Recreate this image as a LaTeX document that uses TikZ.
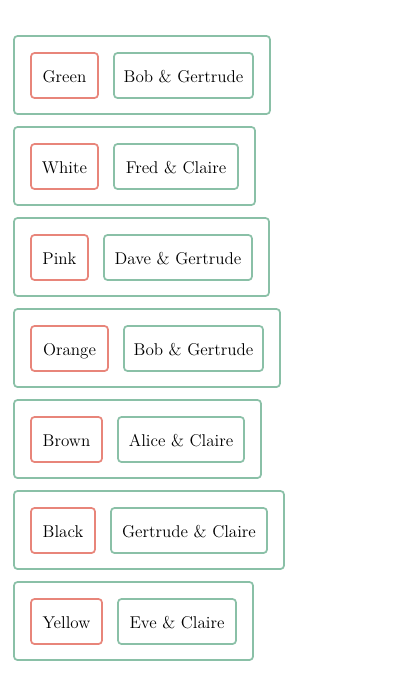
\documentclass[tikz,border=0pt]{standalone}
\usetikzlibrary{fit}
\definecolor{boxred}{RGB}{232,133,122}
\definecolor{boxgreen}{RGB}{138,192,167}
\begin{document}
\begin{tikzpicture}[x=0.75pt,y=-0.75pt,
  every node/.style={font=\fontsize{12.8}{15}\selectfont},
  redbox/.style={draw=boxred, line width=1.3pt, rounded corners=2.6pt, inner sep=0pt},
  greenbox/.style={draw=boxgreen, line width=1.3pt, rounded corners=2.6pt, inner sep=0pt},
  outerbox/.style={draw=boxgreen, line width=1.3pt, rounded corners=2.6pt, inner sep=0pt},
  boxtext/.style={inner sep=0pt, anchor=base}]
\useasboundingbox[fill=white] (0,0) rectangle (400,675);
\foreach \i/\rr/\gl/\gr/\orr/\ta/\tb in {
  0/98/114/253/270/Green/Bob \& Gertrude,
  1/98/114/238/255/White/Fred \& Claire,
  2/88/104/252/269/Pink/Dave \& Gertrude,
  3/108/124/263/280/Orange/Bob \& Gertrude,
  4/102/118/244/261/Brown/Alice \& Claire,
  5/95/111/267/284/Black/Gertrude \& Claire,
  6/102/118/236/253/Yellow/Eve \& Claire}{
  \pgfmathsetmacro{\top}{36+91*\i}
  \pgfmathsetmacro{\base}{\top+46.3}
  \node[outerbox, fit={(14,\top) (\orr,\top+78)}] (o\i) {};
  \node[redbox, fit={(31,\top+17) (\rr,\top+62)}] (r\i) {};
  \node[greenbox, fit={(\gl,\top+17) (\gr,\top+62)}] (g\i) {};
  \node[boxtext] (tr\i) at (r\i.center |- 0,\base) {\ta};
  \node[boxtext] (tg\i) at (g\i.center |- 0,\base) {\tb};
}
\end{tikzpicture}
\end{document}
